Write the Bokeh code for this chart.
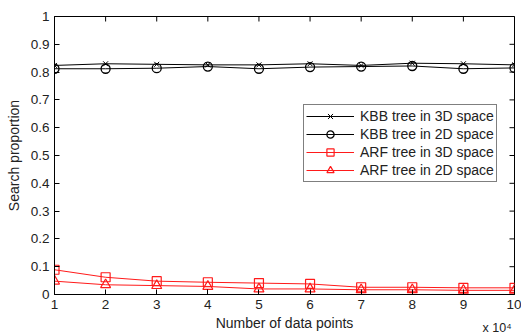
import math
from bokeh.plotting import figure
from bokeh.models import (Range1d, LinearAxis, FixedTicker, PrintfTickFormatter,
                          Legend, LegendItem, Label)
from bokeh.embed import file_html
from bokeh.resources import INLINE

x = [1, 2, 3, 4, 5, 6, 7, 8, 9, 10]
kbb3d = [0.824, 0.830, 0.828, 0.826, 0.826, 0.830, 0.824, 0.832, 0.830, 0.826]
kbb2d = [0.812, 0.812, 0.814, 0.820, 0.812, 0.818, 0.820, 0.822, 0.812, 0.815]
arf3d = [0.089, 0.062, 0.048, 0.044, 0.041, 0.038, 0.026, 0.026, 0.024, 0.024]
arf2d = [0.048, 0.035, 0.032, 0.029, 0.020, 0.020, 0.017, 0.017, 0.015, 0.015]
x_ticks = [1, 2, 3, 4, 5, 6, 7, 8, 9, 10]
y_ticks = [0, 0.1, 0.2, 0.3, 0.4, 0.5, 0.6, 0.7, 0.8, 0.9, 1]
names = ["KBB tree in 3D space", "KBB tree in 2D space",
         "ARF tree in 3D space", "ARF tree in 2D space"]
x_label = "Number of data points"
y_label = "Search proportion"
x_multiplier = "x 10\u2074"

FONT = "Liberation Sans"
TXT = "#222222"
RED = "#ff1a1a"

p = figure(width=521, height=336, output_backend="svg", toolbar_location=None,
           x_range=Range1d(1, 10), y_range=Range1d(0, 1),
           min_border_left=54, min_border_right=7, min_border_top=16,
           min_border_bottom=42, x_axis_location=None, y_axis_location=None)
p.grid.visible = False
p.outline_line_color = "black"
p.outline_line_width = 1
p.background_fill_color = "white"
p.border_fill_color = "white"


def style_axis(ax):
    ax.axis_line_color = "black"
    ax.major_tick_line_color = "black"
    ax.major_tick_in = 5
    ax.major_tick_out = 0
    ax.minor_tick_line_color = None
    ax.major_label_text_font = FONT
    ax.major_label_text_font_size = "13.5px"
    ax.major_label_text_color = TXT
    ax.axis_label_text_font = FONT
    ax.axis_label_text_font_size = "14px"
    ax.axis_label_text_font_style = "normal"
    ax.axis_label_text_color = TXT


xb = LinearAxis(ticker=FixedTicker(ticks=x_ticks), axis_label=x_label)
style_axis(xb)
xb.major_label_standoff = 5
xb.axis_label_standoff = 3
p.add_layout(xb, "below")

yl = LinearAxis(ticker=FixedTicker(ticks=y_ticks), axis_label=y_label,
                formatter=PrintfTickFormatter(format="%g"))
style_axis(yl)
yl.major_label_standoff = 5
yl.axis_label_standoff = 6
p.add_layout(yl, "left")

# inward ticks on the top and right edges of the box (half clipped by the frame)
top_y = [p.y_range.end] * len(x_ticks)
right_x = [p.x_range.end] * len(y_ticks)
p.scatter(x_ticks, top_y, marker="dash", angle=math.pi / 2, size=10,
          line_color="black", line_width=1)
p.scatter(right_x, y_ticks, marker="dash", size=10, line_color="black", line_width=1)

l1 = p.line(x, kbb3d, line_color="black", line_width=1)
m1 = p.scatter(x, kbb3d, marker="x", size=7, line_color="black", line_width=1)
l2 = p.line(x, kbb2d, line_color="black", line_width=1)
m2 = p.scatter(x, kbb2d, marker="circle", size=9, line_color="black",
               fill_color=None, line_width=1.3)
l3 = p.line(x, arf3d, line_color=RED, line_width=1)
m3 = p.scatter(x, arf3d, marker="square", size=9, line_color=RED,
               fill_color=None, line_width=1.2)
l4 = p.line(x, arf2d, line_color=RED, line_width=1)
m4 = p.scatter(x, arf2d, marker="triangle", size=10, line_color=RED,
               fill_color=None, line_width=1.2)

legend = Legend(items=[
    LegendItem(label=names[0], renderers=[l1, m1]),
    LegendItem(label=names[1], renderers=[l2, m2]),
    LegendItem(label=names[2], renderers=[l3, m3]),
    LegendItem(label=names[3], renderers=[l4, m4]),
], location=(249, 112))
legend.label_text_font = FONT
legend.label_text_font_size = "14px"
legend.label_text_color = TXT
legend.glyph_width = 48
legend.glyph_height = 18
legend.label_height = 18
legend.label_standoff = 6
legend.spacing = 0
legend.padding = 2
legend.margin = 0
legend.border_line_color = "black"
legend.border_line_width = 1
legend.background_fill_alpha = 1
p.add_layout(legend, "center")

p.add_layout(Label(x=428, y=-311, x_units="screen", y_units="screen",
                   text=x_multiplier, text_font=FONT, text_font_size="12.5px",
                   text_color=TXT, text_baseline="alphabetic"), "above")

open("out.html", "w").write(file_html(p, INLINE))
